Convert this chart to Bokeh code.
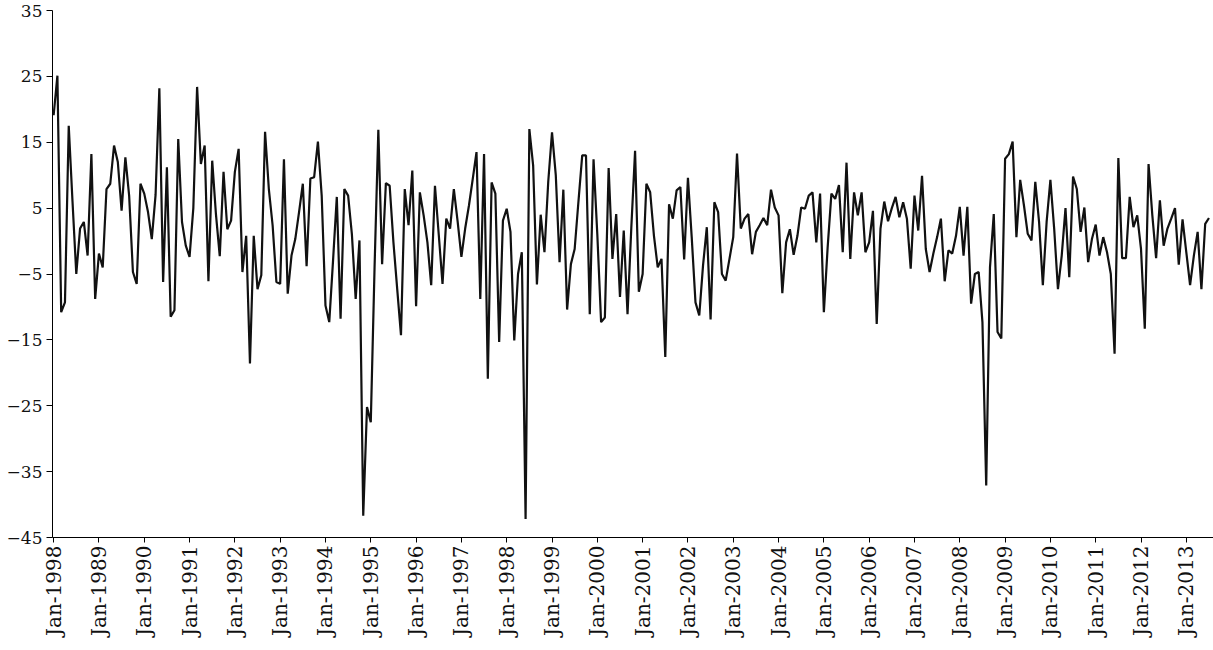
from math import pi
from bokeh.plotting import figure
from bokeh.models import FixedTicker, Range1d
from bokeh.embed import file_html
from bokeh.resources import INLINE

# Monthly series, Jan 1988 .. Jul 2013
values = [
    19.1, 25.1, -10.8, -9.3, 17.5, 6.0, -5.0, 1.9, 2.9, -2.2, 13.2, -8.8,
    -1.9, -4.0, 7.9, 8.7, 14.5, 12.0, 4.6, 12.7, 6.9, -4.7, -6.5, 8.7,
    7.2, 4.4, 0.3, 7.0, 23.2, -6.2, 11.2, -11.5, -10.5, 15.5, 2.9, -0.7,
    -2.4, 5.0, 23.4, 11.7, 14.5, -6.1, 12.2, 4.0, -2.3, 10.5, 1.8, 3.1,
    10.5, 14.0, -4.7, 0.8, -18.6, 0.8, -7.3, -5.2, 16.6, 7.9, 2.4, -6.2,
    -6.5, 12.4, -8.0, -2.2, 0.3, 4.4, 8.7, -3.8, 9.5, 9.7, 15.1, 6.9,
    -9.8, -12.3, -3.0, 6.7, -11.8, 7.9, 6.9, 1.0, -8.8, 0.1, -41.7, -25.2,
    -27.5, -4.0, 16.9, -3.5, 8.8, 8.4, -0.2, -7.3, -14.3, 7.9, 2.4, 10.7,
    -9.9, 7.4, 3.9, -0.2, -6.7, 8.4, 1.0, -6.5, 3.4, 1.9, 7.9, 3.0,
    -2.4, 1.9, 5.4, 9.4, 13.5, -8.8, 13.2, -20.9, 8.9, 7.2, -15.3, 3.1,
    4.9, 1.4, -15.1, -5.0, -1.7, -42.2, 17.0, 11.5, -6.6, 4.0, -1.7, 9.0,
    16.5, 10.0, -3.2, 7.8, -10.4, -3.5, -1.2, 6.0, 13.0, 13.0, -11.1, 12.4,
    1.0, -12.3, -11.6, 11.1, -2.7, 4.1, -8.5, 1.6, -11.1, 2.0, 13.7, -7.7,
    -5.0, 8.7, 7.4, 0.8, -4.0, -2.7, -17.6, 5.6, 3.4, 7.7, 8.2, -2.8,
    9.6, 0.6, -9.3, -11.3, -3.7, 2.1, -11.9, 5.9, 4.4, -5.0, -6.0, -2.7,
    0.6, 13.3, 1.9, 3.4, 4.1, -2.0, 1.4, 2.4, 3.5, 2.4, 7.8, 5.1,
    3.9, -7.9, -0.2, 1.8, -2.1, 0.8, 5.1, 4.9, 6.9, 7.4, -0.2, 7.2,
    -10.8, -1.0, 7.2, 6.4, 8.5, -1.7, 11.9, -2.7, 7.4, 3.9, 7.4, -1.7,
    -0.2, 4.6, -12.6, 1.9, 6.0, 3.0, 5.0, 6.7, 3.6, 5.9, 3.4, -4.2,
    6.9, 1.6, 9.9, -1.2, -4.7, -1.9, 0.6, 3.4, -6.1, -1.4, -1.9, 0.8,
    5.2, -2.2, 5.2, -9.5, -5.0, -4.7, -12.3, -37.1, -4.0, 4.1, -13.8, -14.8,
    12.5, 13.2, 15.1, 0.6, 9.3, 5.4, 1.1, 0.1, 9.0, 2.9, -6.7, 2.9,
    9.3, 1.9, -7.3, -2.2, 5.0, -5.5, 9.8, 7.9, 1.4, 5.1, -3.2, 0.3,
    2.5, -2.2, 0.6, -1.7, -5.0, -17.1, 12.6, -2.6, -2.6, 6.7, 2.1, 3.9,
    -1.2, -13.3, 11.7, 3.9, -2.6, 6.2, -0.7, 1.9, 3.4, 5.0, -3.6, 3.3,
    -1.7, -6.7, -2.2, 1.4, -7.3, 2.6, 3.5,
]

tick_labels = ["Jan-1998"] + ["Jan-%d" % y for y in range(1989, 2014)]
y_ticks = [-45, -35, -25, -15, -5, 5, 15, 25, 35]

months = list(range(len(values)))
tick_pos = [12 * i for i in range(len(tick_labels))]

FONT = "DejaVu Serif"

p = figure(width=1213, height=650, output_backend="svg", toolbar_location=None,
           x_range=Range1d(-0.3, 307.2), y_range=Range1d(-45, 35))
p.line(months, values, line_color="#111111", line_width=2.2)

p.outline_line_color = None
p.xgrid.visible = False
p.ygrid.visible = False
p.background_fill_color = "white"
p.border_fill_color = "white"
p.min_border_left = 52
p.min_border_right = 0
p.min_border_top = 10
p.min_border_bottom = 113

ya = p.yaxis[0]
ya.ticker = FixedTicker(ticks=y_ticks)
ya.minor_tick_line_color = None
ya.major_tick_out = 6
ya.major_tick_in = 0
ya.axis_line_color = "black"
ya.major_tick_line_color = "black"
ya.major_label_text_font = FONT
ya.major_label_text_font_size = "17px"
ya.major_label_text_color = "#111111"
ya.major_label_standoff = 4

xa = p.xaxis[0]
xa.ticker = FixedTicker(ticks=tick_pos)
xa.major_label_overrides = {pos: lab for pos, lab in zip(tick_pos, tick_labels)}
xa.major_label_orientation = pi / 2
xa.minor_tick_line_color = None
xa.major_tick_out = 5
xa.major_tick_in = 0
xa.axis_line_color = "black"
xa.major_tick_line_color = "black"
xa.major_label_text_font = FONT
xa.major_label_text_font_size = "20px"
xa.major_label_text_color = "#111111"
xa.major_label_standoff = 3

open("out.html", "w").write(file_html(p, INLINE))
